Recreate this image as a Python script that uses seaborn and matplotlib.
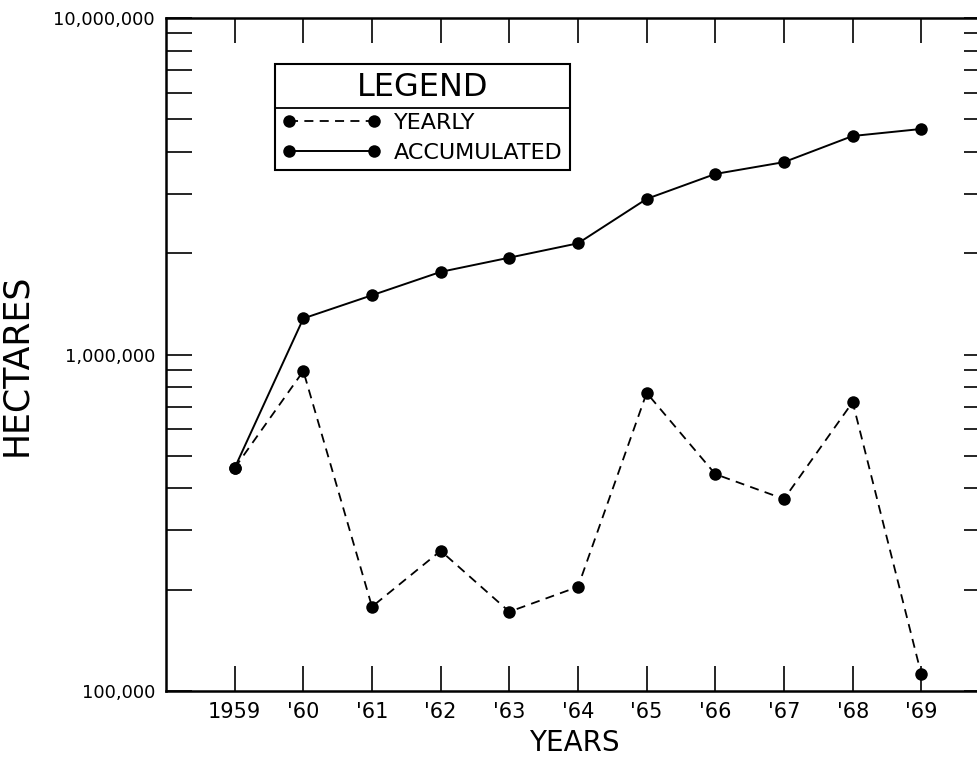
import numpy as np
import pandas as pd
import matplotlib
matplotlib.use("Agg")
import matplotlib.pyplot as plt
import seaborn as sns
from matplotlib.ticker import FixedLocator, LogLocator, FuncFormatter, NullFormatter
from matplotlib.lines import Line2D

# ---- data ----
years = [1959, 1960, 1961, 1962, 1963, 1964, 1965, 1966, 1967, 1968, 1969]
year_labels = ["1959", "'60", "'61", "'62", "'63", "'64", "'65", "'66", "'67", "'68", "'69"]
yearly = [460000, 893000, 178000, 261000, 172000, 204000, 769000, 441000, 372000, 722000, 112000]
accumulated = [460000, 1280000, 1500000, 1760000, 1940000, 2140000, 2900000, 3440000, 3730000, 4460000, 4680000]
y_major = [100000, 1000000, 10000000]

sns.set_theme(style="white")
plt.rcParams["font.family"] = ["DejaVu Sans"]
plt.rcParams.update({"text.color": "black", "axes.labelcolor": "black",
                     "xtick.color": "black", "ytick.color": "black"})

fig = plt.figure(figsize=(9.78, 7.59), dpi=100)
ax = fig.add_axes([166 / 978, 1 - 691 / 759, 824 / 978, 673 / 759])

df_y = pd.DataFrame({"year": years, "hectares": yearly})
df_a = pd.DataFrame({"year": years, "hectares": accumulated})

sns.lineplot(data=df_y, x="year", y="hectares", ax=ax, color="black",
             linestyle=(0, (5, 3.5)), linewidth=1.3, marker="o", markersize=9,
             markeredgewidth=0, label="YEARLY", estimator=None)
sns.lineplot(data=df_a, x="year", y="hectares", ax=ax, color="black",
             linestyle="-", linewidth=1.4, marker="o", markersize=9,
             markeredgewidth=0, label="ACCUMULATED", estimator=None)

ax.set_yscale("log")
ax.set_ylim(1e5, 1e7)
ax.set_xlim(1958, 1970)

ax.set_xticks(years)
ax.set_xticklabels(year_labels)
ax.yaxis.set_major_locator(FixedLocator(y_major))
ax.yaxis.set_minor_locator(LogLocator(base=10, subs=np.arange(2, 10)))
ax.yaxis.set_major_formatter(FuncFormatter(lambda v, p: f"{v:,.0f}"))
ax.yaxis.set_minor_formatter(NullFormatter())

ax.tick_params(axis="both", which="both", direction="in", colors="black",
               labelcolor="black", bottom=True, top=True, left=True, right=True)
ax.tick_params(axis="x", which="major", length=18, width=1.2, labelsize=15, pad=8)
ax.tick_params(axis="x", which="minor", bottom=False, top=False)
ax.tick_params(axis="y", which="both", length=19, width=1.2, labelsize=13, pad=8)

for s in ax.spines.values():
    s.set_visible(True)
    s.set_color("black")
    s.set_linewidth(1.8)

ax.set_xlabel("YEARS", fontsize=20, color="black")
ax.xaxis.set_label_coords(0.495, -0.057)
ax.set_ylabel("HECTARES", fontsize=25, color="black")
ax.yaxis.set_label_coords(-0.161, 0.484)

leg = ax.legend(loc="upper left", bbox_to_anchor=(0.132, 0.932), bbox_transform=ax.transAxes,
                borderaxespad=0, frameon=True, fancybox=False, edgecolor="black",
                framealpha=1, fontsize=16, title="LEGEND", title_fontsize=23,
                numpoints=2, handlelength=4.4, handletextpad=0.6, labelspacing=0.45,
                borderpad=0.35)
leg.get_frame().set_linewidth(1.5)
for t in leg.get_texts():
    t.set_color("black")
leg.get_title().set_color("black")

fig.canvas.draw()
r = fig.canvas.get_renderer()
lb = leg.get_window_extent(r)
tb = leg.get_title().get_window_extent(r)
hb = leg._legend_handle_box.get_window_extent(r)
ysep = (tb.y0 + hb.y1) / 2
inv = fig.transFigure.inverted()
(x0, y0) = inv.transform((lb.x0, ysep))
(x1, _) = inv.transform((lb.x1, ysep))
fig.add_artist(Line2D([x0, x1], [y0, y0], transform=fig.transFigure, color="black", linewidth=1.3))

fig.savefig("out.png", dpi=100)
